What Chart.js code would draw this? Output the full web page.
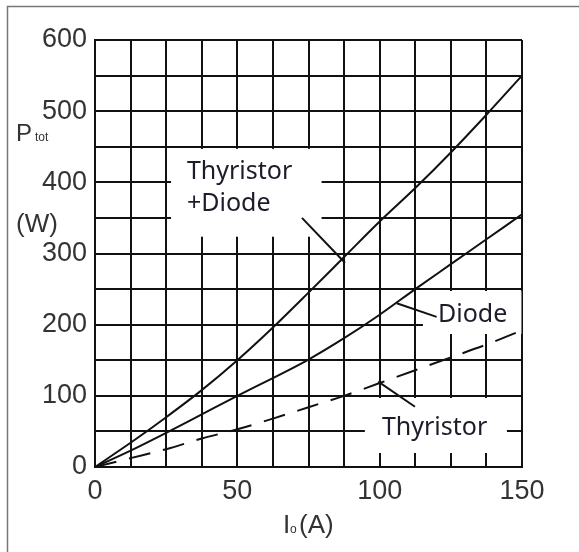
<!DOCTYPE html>
<html>
<head>
<meta charset="utf-8">
<script src="https://cdn.jsdelivr.net/npm/chart.js@4.4.1/dist/chart.umd.min.js"></script>
<style>
  html, body { margin: 0; padding: 0; background: #fff; }
  canvas { display: block; }
</style>
</head>
<body>
<canvas id="chart-1" width="579" height="552"></canvas>
<script>
// values
var currentA = [0, 12.5, 25, 37.5, 50, 62.5, 75, 87.5, 100, 112.5, 125, 137.5, 150];
var thyDiodeW = [0, 34, 70, 108, 150, 196, 245, 295, 345, 392, 442, 495, 550];
var diodeW = [0, 23, 48, 74, 100, 125, 151, 181, 214, 250, 285, 320, 355];
var thyristorW = [0, 12.5, 25, 40, 53, 68, 84, 100, 118, 136, 154, 172, 192];
var xTickLabels = [0, 50, 100, 150];
var yTickLabels = [0, 100, 200, 300, 400, 500, 600];

// label boxes + leader lines, in data units
var labels = [
  { lines: ["Thyristor", "+Diode"], at: [32.3, 404], box: [26.7, 447, 79.6, 323.6], lead: [72.7, 350, 87.8, 287] },
  { lines: ["Diode"], at: [120.5, 204], box: [115.2, 247.3, 149.8, 186.9], lead: [106, 230, 120, 211] },
  { lines: ["Thyristor"], at: [100.8, 44.3], box: [94.8, 97, 144.7, 19.7], lead: [99.5, 120, 112.4, 84.7] },
];

function pts(ys) {
  return currentA.map(function (x, i) { return { x: x, y: ys[i] }; });
}

var annotate = {
  id: "annotate",
  beforeDraw: function (chart) {
    var ctx = chart.ctx;
    ctx.save();
    ctx.fillStyle = "#fff";
    ctx.fillRect(0, 0, chart.width, chart.height);
    // outer frame, only left and top show in the picture
    ctx.strokeStyle = "#777";
    ctx.lineWidth = 1.5;
    ctx.beginPath();
    ctx.moveTo(7.5, 552);
    ctx.lineTo(7.5, 6.5);
    ctx.lineTo(579, 6.5);
    ctx.stroke();
    ctx.restore();
  },
  beforeDatasetsDraw: function (chart) {
    var ctx = chart.ctx, xs = chart.scales.x, ys = chart.scales.y;
    ctx.save();
    labels.forEach(function (l) {
      var x0 = xs.getPixelForValue(l.box[0]), y0 = ys.getPixelForValue(l.box[1]);
      var x1 = xs.getPixelForValue(l.box[2]), y1 = ys.getPixelForValue(l.box[3]);
      ctx.fillStyle = "#fff";
      ctx.fillRect(x0, y0, x1 - x0, y1 - y0);
    });
    ctx.strokeStyle = "#111";
    ctx.lineWidth = 2;
    labels.forEach(function (l) {
      ctx.beginPath();
      ctx.moveTo(xs.getPixelForValue(l.lead[0]), ys.getPixelForValue(l.lead[1]));
      ctx.lineTo(xs.getPixelForValue(l.lead[2]), ys.getPixelForValue(l.lead[3]));
      ctx.stroke();
    });
    ctx.fillStyle = "#1c1c2a";
    ctx.font = "25px 'Noto Sans'";
    ctx.textBaseline = "alphabetic";
    labels.forEach(function (l) {
      var x = xs.getPixelForValue(l.at[0]), y = ys.getPixelForValue(l.at[1]);
      l.lines.forEach(function (t, i) { ctx.fillText(t, x, y + i * 32); });
    });
    ctx.restore();
  },
  afterDraw: function (chart) {
    var ctx = chart.ctx;
    ctx.save();
    ctx.fillStyle = "#333";
    ctx.textBaseline = "alphabetic";
    ctx.font = "24px 'Liberation Sans'";
    ctx.fillText("P", 16, 141);
    ctx.font = "12px 'Liberation Sans'";
    ctx.fillText("tot", 35, 141);
    ctx.font = "26px 'Liberation Sans'";
    ctx.fillText("(W)", 16, 232);
    ctx.fillText("I", 283, 533);
    ctx.font = "12px 'Liberation Sans'";
    ctx.fillText("o", 290, 533);
    ctx.font = "26px 'Liberation Sans'";
    ctx.fillText("(A)", 299, 533);
    ctx.restore();
  },
};

var chartOne = document.getElementById("chart-1").getContext("2d");
var lossChart = new Chart(chartOne, {
  type: "line",
  data: {
    datasets: [
      {
        label: "Thyristor +Diode",
        data: pts(thyDiodeW),
        borderColor: "#111",
        borderWidth: 2,
        pointRadius: 0,
        cubicInterpolationMode: "monotone",
        fill: false,
      },
      {
        label: "Diode",
        data: pts(diodeW),
        borderColor: "#111",
        borderWidth: 2,
        pointRadius: 0,
        cubicInterpolationMode: "monotone",
        fill: false,
      },
      {
        label: "Thyristor",
        data: pts(thyristorW),
        borderColor: "#111",
        borderWidth: 2,
        borderDash: [22, 13], // long dashes
        pointRadius: 0,
        cubicInterpolationMode: "monotone",
        fill: false,
      },
    ],
  },
  options: {
    responsive: false,
    devicePixelRatio: 1,
    animation: false,
    layout: { padding: { left: 0, top: 40, right: 57, bottom: 0 } },
    plugins: { legend: { display: false }, tooltip: { enabled: false } },
    scales: {
      x: {
        type: "linear",
        min: 0,
        max: 150,
        afterFit: function (s) { s.height = 85; },
        grid: { color: "#111", lineWidth: 2, drawTicks: false },
        border: { color: "#111", width: 2 },
        ticks: {
          stepSize: 12.5,
          autoSkip: false,
          maxRotation: 0,
          padding: 8,
          color: "#333",
          font: { family: "'Liberation Sans'", size: 27 },
          callback: function (v) { return xTickLabels.indexOf(v) >= 0 ? String(v) : ""; },
        },
      },
      y: {
        min: 0,
        max: 600,
        afterFit: function (s) { s.width = 95; },
        grid: { color: "#111", lineWidth: 2, drawTicks: false },
        border: { color: "#111", width: 2 },
        ticks: {
          stepSize: 50,
          autoSkip: false,
          padding: 8,
          color: "#333",
          font: { family: "'Liberation Sans'", size: 27 },
          callback: function (v) { return yTickLabels.indexOf(v) >= 0 ? String(v) : ""; },
        },
      },
    },
  },
  plugins: [annotate],
});
</script>
</body>
</html>
